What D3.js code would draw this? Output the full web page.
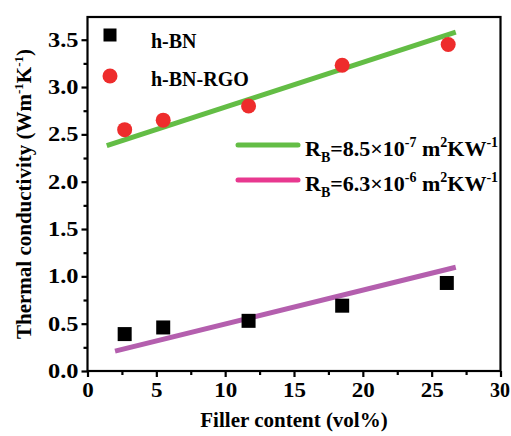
<!DOCTYPE html>
<html><head><meta charset="utf-8">
<script src="https://cdn.jsdelivr.net/npm/d3@7"></script>
<style>
body{margin:0;background:#fff;}
svg{display:block;font-family:"Liberation Serif","Times New Roman",serif;font-weight:bold;}
</style></head>
<body><svg id="c" width="511" height="436"></svg>
<script>
const hbnX = [2.7, 5.5, 11.7, 18.5, 26.1];
const hbnY = [0.39, 0.46, 0.53, 0.69, 0.93];
const rgoX = [2.7, 5.5, 11.7, 18.5, 26.2];
const rgoY = [2.55, 2.65, 2.80, 3.23, 3.45];
const fitRgo = [[1.4, 2.38], [26.75, 3.58]];
const fitHbn = [[2.0, 0.21], [26.75, 1.096]];
const xTicks = [0, 5, 10, 15, 20, 25, 30];
const yTicks = [0.0, 0.5, 1.0, 1.5, 2.0, 2.5, 3.0, 3.5];

const svg = d3.select("#c");
const L = 87.5, R = 500.5, T = 17, B = 371;
const x = d3.scaleLinear().domain([0, 30]).range([L, R]);
const y = d3.scaleLinear().domain([0, 3.74]).range([B, T]);

// fit lines
const line = d3.line().x(d => x(d[0])).y(d => y(d[1]));
svg.append("path").attr("d", line(fitRgo)).attr("stroke", "#63bd45").attr("stroke-width", 5).attr("fill", "none");
svg.append("path").attr("d", line(fitHbn)).attr("stroke", "#b45fae").attr("stroke-width", 5).attr("fill", "none");

// data
const sq = 14;
svg.selectAll("rect.d").data(hbnX.map((v, i) => [v, hbnY[i]])).enter().append("rect")
  .attr("x", d => x(d[0]) - sq / 2).attr("y", d => y(d[1]) - sq / 2)
  .attr("width", sq).attr("height", sq).attr("fill", "#000");
svg.selectAll("circle.d").data(rgoX.map((v, i) => [v, rgoY[i]])).enter().append("circle")
  .attr("cx", d => x(d[0])).attr("cy", d => y(d[1])).attr("r", 7.5).attr("fill", "#ee2c2c");

// axes
const xMinor = d3.range(2.5, 30, 5);
const yMinor = d3.range(0.25, 3.74, 0.5);
const gx = svg.append("g").attr("transform", `translate(0,${B})`);
gx.call(d3.axisBottom(x).tickValues(xTicks).tickSize(6).tickFormat(d3.format("d")));
gx.append("g").call(d3.axisBottom(x).tickValues(xMinor).tickSize(4).tickFormat(""));
const gy = svg.append("g").attr("transform", `translate(${L},0)`);
gy.call(d3.axisLeft(y).tickValues(yTicks).tickSize(6).tickFormat(d3.format(".1f")));
gy.append("g").call(d3.axisLeft(y).tickValues(yMinor).tickSize(4).tickFormat(""));
svg.selectAll(".domain").remove();
svg.selectAll(".tick line").attr("stroke", "#000").attr("stroke-width", 2.2);
gx.selectAll(".tick text").attr("font-size", 20).attr("font-family", "Liberation Serif").attr("font-weight", "bold").attr("fill", "#000")
  .attr("y", 12).attr("transform", d => d === 30 ? "translate(-1,0)" : "scale(1.15,1)");
gy.selectAll(".tick text").attr("font-size", 20).attr("font-family", "Liberation Serif").attr("font-weight", "bold").attr("fill", "#000")
  .attr("x", -9 / 1.22).attr("transform", "scale(1.22,1)");

// frame
svg.append("rect").attr("x", L).attr("y", T).attr("width", R - L).attr("height", B - T)
  .attr("fill", "none").attr("stroke", "#000").attr("stroke-width", 2.2);

// axis titles
svg.append("text").attr("x", (L + R) / 2).attr("y", 427).attr("text-anchor", "middle")
  .attr("font-size", 21).text("Filler content (vol%)");
const yt = svg.append("text").attr("transform", `translate(31,${(T + B) / 2}) rotate(-90)`)
  .attr("text-anchor", "middle").attr("font-size", 21);
yt.append("tspan").text("Thermal conductivity (Wm");
yt.append("tspan").attr("dy", -8).attr("font-size", 13).text("-1");
yt.append("tspan").attr("dy", 8).text("K");
yt.append("tspan").attr("dy", -8).attr("font-size", 13).text("-1");
yt.append("tspan").attr("dy", 8).text(")");

// legend: markers
svg.append("rect").attr("x", 110 - 6.5).attr("y", 35 - 6.5).attr("width", 13).attr("height", 13).attr("fill", "#000");
svg.append("circle").attr("cx", 110).attr("cy", 76).attr("r", 7.5).attr("fill", "#ee2c2c");
svg.append("text").attr("x", 151).attr("y", 48).attr("font-size", 20).text("h-BN");
svg.append("text").attr("x", 151).attr("y", 86).attr("font-size", 20).text("h-BN-RGO");

// legend: lines
function rbText(yb, mant, exp) {
  const t = svg.append("text").attr("x", 305).attr("y", yb).attr("font-size", 22);
  t.append("tspan").text("R");
  t.append("tspan").attr("dy", 6).attr("font-size", 14).text("B");
  t.append("tspan").attr("dy", -6).text("=" + mant + "\u00d710");
  t.append("tspan").attr("dy", -9).attr("font-size", 14).text(exp);
  t.append("tspan").attr("dy", 9).text(" m");
  t.append("tspan").attr("dy", -9).attr("font-size", 14).text("2");
  t.append("tspan").attr("dy", 9).text("KW");
  t.append("tspan").attr("dy", -9).attr("font-size", 14).text("-1");
}
svg.append("line").attr("x1", 238).attr("x2", 298).attr("y1", 145).attr("y2", 145).attr("stroke", "#63bd45").attr("stroke-width", 5).attr("stroke-linecap", "round");
svg.append("line").attr("x1", 238).attr("x2", 298).attr("y1", 180).attr("y2", 180).attr("stroke", "#e8388f").attr("stroke-width", 5).attr("stroke-linecap", "round");
rbText(156, "8.5", "-7");
rbText(191, "6.3", "-6");
</script></body></html>
